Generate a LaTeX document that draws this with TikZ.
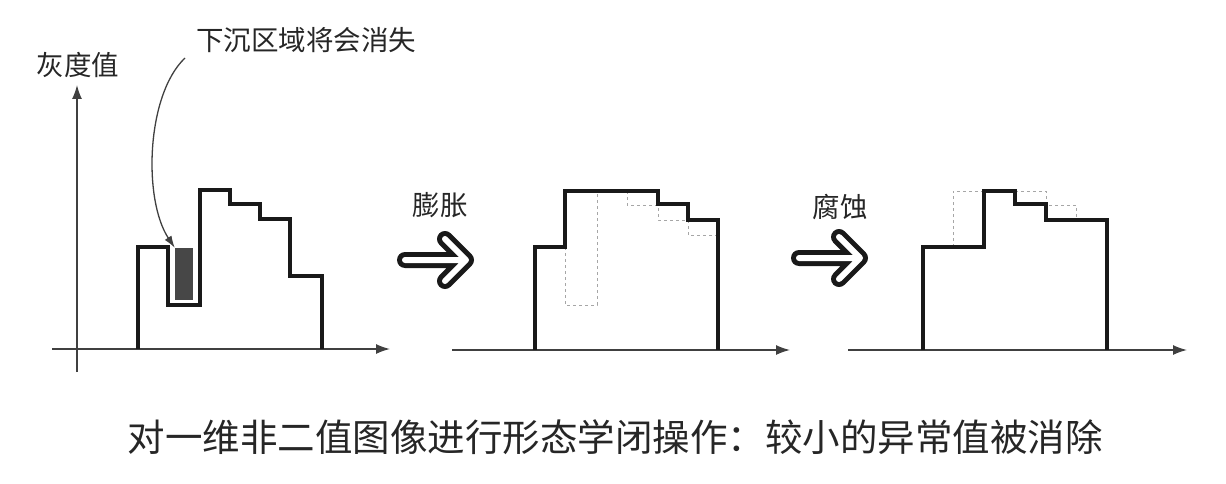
\documentclass[tikz,border=0pt]{standalone}
\usepackage{fontspec}
\newfontfamily\cjk{Noto Sans CJK SC}
\usetikzlibrary{arrows.meta}
\tikzset{
  axis/.style={line width=1.5pt, draw=black!75, -{Latex[length=14pt,width=10pt]}},
  profile/.style={line width=4pt, draw=black!90, line join=miter},
  ghost/.style={line width=1pt, draw=black!35, dash pattern=on 3pt off 3pt},
  fatarrow/.style={line width=16pt, line cap=round, line join=round},
  lbl/.style={font=\cjk\fontsize{27.5}{30}\selectfont, text=black!85, inner sep=0pt},
}
\begin{document}
\begin{tikzpicture}[x=1pt,y=-1pt]
\useasboundingbox (0,0) rectangle (1226,484);

% first profile
\draw [axis] (52,349) -- (390,349);
\draw [axis] (77,372) -- (77,85);
\node [fill=black!72, minimum width=18pt, minimum height=52pt, inner sep=0pt] (sunk) at (184,274) {};
\draw [profile] (138,349) -- (138,247) -- (168,247) -- (168,305) -- (200,305) -- (200,190) -- (230,190) -- (230,204) -- (260,204) -- (260,219) -- (290,219) -- (290,276) -- (322,276) -- (322,349);

% after dilation
\draw [axis] (452,350) -- (790,350);
\draw [ghost] (565,247) -- (565,305) -- (597,305) -- (597,191);
\draw [ghost] (627,191) -- (627,205) -- (658,205) -- (658,220) -- (688,220) -- (688,235) -- (718,235);
\draw [profile] (535,350) -- (535,247) -- (565,247) -- (565,191) -- (658,191) -- (658,204) -- (688,204) -- (688,220) -- (718,220) -- (718,350);

% after erosion
\draw [axis] (848,350) -- (1187,350);
\draw [ghost] (953,247) -- (953,191) -- (984,191);
\draw [ghost] (1015,191) -- (1046,191) -- (1046,205) -- (1076,205) -- (1076,220);
\draw [profile] (923,350) -- (923,247) -- (984,247) -- (984,191) -- (1015,191) -- (1015,204) -- (1046,204) -- (1046,220) -- (1107,220) -- (1107,350);

% fat arrows
\foreach \ax/\ay in {437/260, 831/258} {
  \draw [fatarrow, black!90] (\ax-32,\ay) -- (\ax+28,\ay) (\ax+8,\ay-21) -- (\ax+29,\ay) -- (\ax+8,\ay+21);
  \draw [fatarrow, white, line width=6pt] (\ax-32,\ay) -- (\ax+28,\ay) (\ax+8,\ay-21) -- (\ax+29,\ay) -- (\ax+8,\ay+21);
}

% labels
\node [lbl] (gray) at (78,65) {灰度值};
\node [lbl] (sink) at (306,40) {下沉区域将会消失};
\node [lbl] (dil) at (440,205) {膨胀};
\node [lbl] (ero) at (840,207) {腐蚀};
\node [lbl, font=\cjk\fontsize{37.5}{40}\selectfont] (caption) at (615,437) {对一维非二值图像进行形态学闭操作：较小的异常值被消除};

\coordinate (sinkfrom) at (185,58);
\draw [line width=1.3pt, black!75, -{Latex[length=12pt,width=8pt]}] (sinkfrom) .. controls (146,95) and (143,200) .. (sunk.north west);
\end{tikzpicture}
\end{document}
